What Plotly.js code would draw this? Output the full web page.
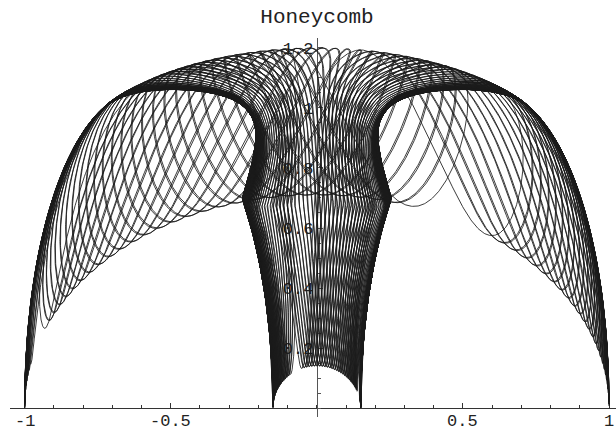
<!DOCTYPE html>
<html><head><meta charset="utf-8">
<script src="https://cdn.plot.ly/plotly-3.0.1.min.js"></script>
<style>html,body{margin:0;padding:0;background:#fff}</style>
</head><body>
<div id="chart" style="width:616px;height:433px"></div>
<script>
// Ring section: mean radius and tube radius
const ringRadii = [0.575, 0.425];
// Vertical terms: base height, height swing, tube lift, lift falloff toward the back
const liftTerms = [0.425, 0.285, 1.07, 0.484];
// Inward dent of the section near its top: depth, start, peak and end angle (degrees)
const sectionDent = [0.2, 70, 105, 139];
// Angular frequencies of the two swinging angles, their phases, number of slow turns
const swingFreq = [1, 5.03];
const swingPhase = [0, 0.4];
const slowTurns = [28];
const samples = [80000];

const xTickVals = [-1, -0.5, 0.5, 1];
const xTickText = ['-1', '-0.5', '0.5', '1'];
const yTickVals = [0.2, 0.4, 0.6, 0.8, 1.0, 1.2];
const yTickText = ['0.2', '0.4', '0.6', '0.8', '1', '1.2'];

const PI = Math.PI;
const swing = t => PI / 2 * (1 - Math.cos(t));

function dent(v) {
  const d = v * 180 / PI;
  const [depth, a, b, c] = sectionDent;
  if (d >= a && d < b) return depth * Math.sin((d - a) / (b - a) * PI / 2) ** 2;
  if (d >= b && d < c) return depth * Math.cos((d - b) / (c - b) * PI / 2);
  return 0;
}

function point(s, v) {
  const rho = ringRadii[0] + ringRadii[1] * Math.cos(v) - dent(v);
  const h = liftTerms[0] + liftTerms[1] * Math.cos(v);
  return [rho * Math.cos(s),
          h * Math.sin(s) + liftTerms[2] * Math.sin(v) / (1 + liftTerms[3] * Math.sin(s))];
}

const xs = [], ys = [];
const T = 2 * PI * slowTurns[0];
for (let k = 0; k <= samples[0]; k++) {
  const t = T * k / samples[0];
  const p = point(swing(swingFreq[0] * t + swingPhase[0]), swing(swingFreq[1] * t + swingPhase[1]));
  xs.push(p[0]); ys.push(p[1]);
}

const mono = 'Liberation Mono, Courier New, monospace';
const xr = [-1.05, 1.0236], yr = [-0.03, 1.2333];

// x tick labels sit just under the axis line
const xLabels = xTickVals.map((v, i) => ({
  x: v, y: 0, xref: 'x', yref: 'y', text: xTickText[i], showarrow: false,
  xanchor: 'center', yanchor: 'top', yshift: -2,
  font: {family: mono, size: 17, color: '#222'}
}));

const layout = {
  width: 616, height: 433,
  margin: {l: 10, r: 0, t: 38, b: 16, pad: 0},
  paper_bgcolor: '#fff', plot_bgcolor: '#fff',
  showlegend: false,
  title: {text: 'Honeycomb', font: {family: mono, size: 21, color: '#222'},
          xref: 'container', yref: 'container', x: 0.5146, xanchor: 'center', y: 0.964, yanchor: 'middle'},
  xaxis: {range: xr, anchor: 'free', position: (0 - yr[0]) / (yr[1] - yr[0]),
          showline: true, linecolor: '#333', linewidth: 1, zeroline: false, showgrid: false,
          ticks: 'inside', ticklen: 5, tickwidth: 1, tickcolor: '#333',
          tickmode: 'array', tickvals: xTickVals, showticklabels: false,
          minor: {tickmode: 'linear', tick0: 0, dtick: 0.1, ticks: 'inside', ticklen: 3, tickwidth: 1, tickcolor: '#333', showgrid: false},
          layer: 'below traces', fixedrange: true},
  yaxis: {range: yr, anchor: 'free', position: (0 - xr[0]) / (xr[1] - xr[0]), side: 'left',
          showline: true, linecolor: '#555', linewidth: 1, zeroline: false, showgrid: false,
          ticks: 'inside', ticklen: 5, tickwidth: 1, tickcolor: '#555',
          tickmode: 'array', tickvals: yTickVals, ticktext: yTickText,
          tickfont: {family: mono, size: 17, color: '#222'},
          minor: {tickmode: 'linear', tick0: 0, dtick: 0.05, ticks: 'inside', ticklen: 3, tickwidth: 1, tickcolor: '#555', showgrid: false},
          layer: 'below traces', fixedrange: true},
  annotations: xLabels
};

const trace = {type: 'scatter', mode: 'lines', x: xs, y: ys, hoverinfo: 'skip',
               line: {color: '#1a1a1a', width: 0.85}};

Plotly.newPlot('chart', [trace], layout, {staticPlot: true, displayModeBar: false});
</script>
</body></html>
